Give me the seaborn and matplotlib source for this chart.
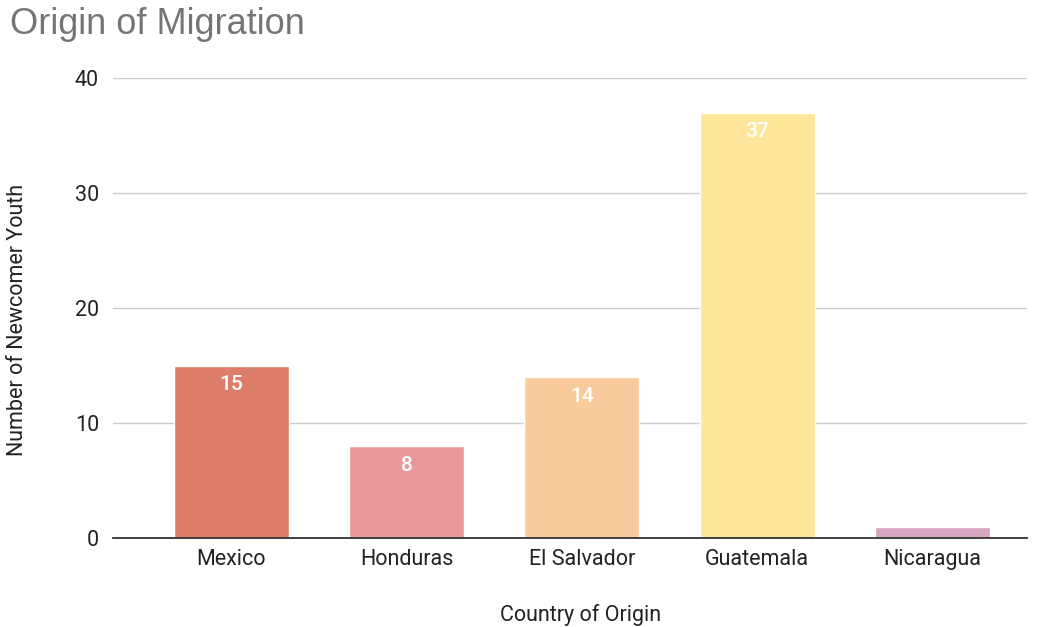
import matplotlib
matplotlib.use("Agg")
import matplotlib.pyplot as plt
import seaborn as sns
import pandas as pd

countries = ["Mexico", "Honduras", "El Salvador", "Guatemala", "Nicaragua"]
counts = [15, 8, 14, 37, 1]
colors = ["#DD7E6B", "#EA9999", "#F9CB9C", "#FFE599", "#D5A6BD"]
yticks = [0, 10, 20, 30, 40]

sns.set_theme(style="white")
plt.rcParams["font.family"] = ["Roboto", "DejaVu Sans"]

df = pd.DataFrame({"country": countries, "count": counts})

fig = plt.figure(figsize=(10.41, 6.27), dpi=100)
ax = fig.add_axes([113/1041, 1-538/627, (1027-113)/1041, (538-78)/627])

sns.barplot(data=df, x="country", y="count", hue="country", palette=colors,
            width=0.656, legend=False, ax=ax, saturation=1)

ax.set_xlim(-0.673, 4.538)
ax.set_ylim(0, 40)
ax.set_yticks(yticks)
ax.yaxis.grid(True, color="#cccccc", linewidth=1)
ax.set_axisbelow(True)
for s in ["left", "right", "top"]:
    ax.spines[s].set_visible(False)
ax.spines["bottom"].set_color("#333333")
ax.spines["bottom"].set_linewidth(1.3)
ax.spines["bottom"].set_zorder(5)
ax.tick_params(axis="both", length=0, labelsize=15.5, colors="#222222", pad=8)
ax.tick_params(axis="y", pad=10)

ax.set_xlabel("Country of Origin", fontsize=15.5, color="#222222")
ax.set_ylabel("Number of Newcomer Youth", fontsize=15.5, color="#222222")
ax.xaxis.set_label_coords((581 - 113) / 914, -(615 - 538) / 460)
ax.yaxis.set_label_coords(-(113 - 18) / 914, (538 - 320) / 460)
ax.xaxis.label.set_va("center")
ax.yaxis.label.set_va("center")

for i, v in enumerate(counts):
    if v >= 5:
        ax.text(i, v - 0.85, str(v), ha="center", va="top", color="white",
                fontsize=15, fontweight="medium")

fig.text(10/1041, 1-25/627, "Origin of Migration", fontsize=26, color="#757575",
         family=["Liberation Sans", "DejaVu Sans"], va="center", ha="left")

fig.savefig("out.png", dpi=100)
